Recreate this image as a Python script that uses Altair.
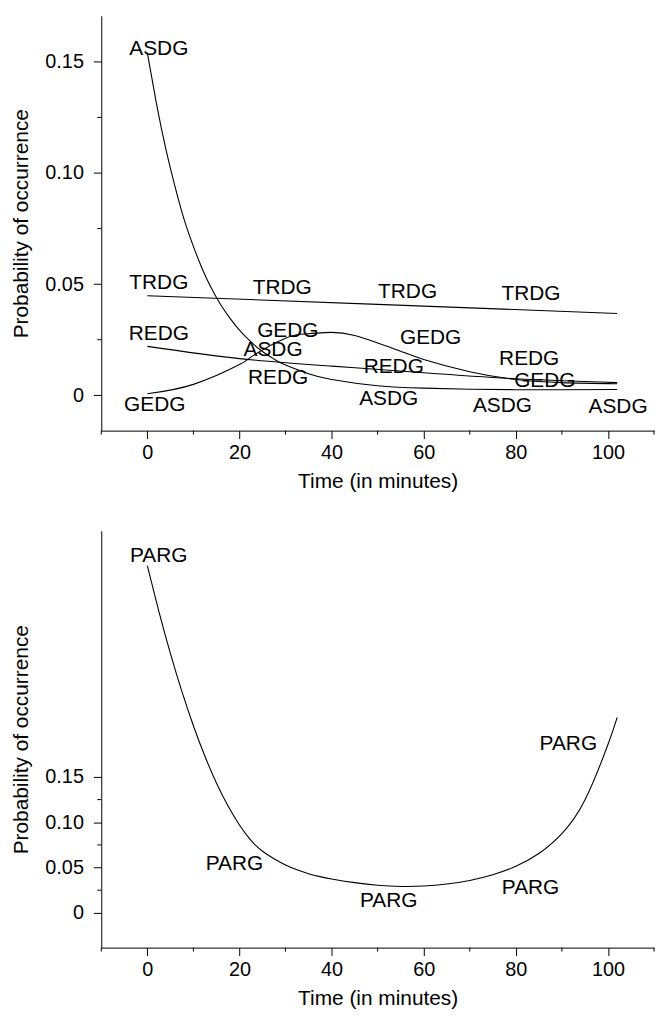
import altair as alt
import pandas as pd

# ---------------- top panel data ----------------
asdg_t = [0, 2, 4, 6, 8, 10, 12, 14, 16, 18, 20, 22.5, 25, 27.5, 30, 35, 40, 50, 60, 70,
          80, 90, 102]
asdg_p = [0.154, 0.131, 0.111, 0.094, 0.079, 0.067, 0.0565, 0.0478, 0.0405, 0.0345,
          0.0293, 0.024, 0.0197, 0.0163, 0.0136, 0.0097, 0.0071, 0.0043, 0.0032, 0.0027,
          0.0025, 0.0025, 0.0026]
trdg_t = [0, 50, 102]
trdg_p = [0.0448, 0.0409, 0.0368]
redg_t = [0, 20, 40, 60, 80, 102]
redg_p = [0.022, 0.0165, 0.0131, 0.0101, 0.0074, 0.0057]
gedg_t = [0, 10, 20, 22.8, 30, 35, 40, 45, 50, 55, 60, 70, 80, 90, 102]
gedg_p = [0.0007, 0.0049, 0.0138, 0.0176, 0.0257, 0.0277, 0.0283, 0.0269, 0.0235,
          0.0198, 0.0161, 0.0106, 0.0071, 0.0057, 0.0052]

top_lab_text = ["ASDG", "TRDG", "TRDG", "TRDG", "TRDG", "REDG", "GEDG", "ASDG", "REDG",
                "REDG", "GEDG", "REDG", "GEDG", "GEDG", "ASDG", "ASDG", "ASDG"]
top_lab_t = [2.5, 2.5, 29.3, 56.5, 83.3, 2.5, 30.5, 27.3, 28.4, 53.5, 61.5, 82.9, 86.3,
             1.6, 52.4, 77.1, 102.2]
top_lab_p = [0.1557, 0.0506, 0.0484, 0.0466, 0.0454, 0.0275, 0.029, 0.0202, 0.0079,
             0.0128, 0.0257, 0.0161, 0.0064, -0.0045, -0.0018, -0.0048, -0.0055]

# ---------------- bottom panel data ----------------
parg_t = [0, 2.5, 5, 7.5, 10, 12.5, 15, 17.5, 20, 22.5, 25, 27.5, 30, 32.5, 35, 37.5,
          40, 45, 50, 55, 60, 65, 70, 75, 80, 85, 90, 95, 100, 102]
parg_p = [0.383, 0.3326, 0.2864, 0.2443, 0.2065, 0.1728, 0.1434, 0.1181, 0.097, 0.080,
          0.068, 0.0597, 0.0528, 0.0475, 0.0433, 0.040, 0.0374, 0.0334, 0.0305, 0.0292,
          0.0296, 0.0318, 0.0358, 0.042, 0.0515, 0.0655, 0.0875, 0.1245, 0.1858, 0.2157]
bot_lab_text = ["PARG", "PARG", "PARG", "PARG", "PARG"]
bot_lab_t = [2.45, 18.9, 52.4, 83.2, 91.4]
bot_lab_p = [0.394, 0.0544, 0.0131, 0.027, 0.186]

# ---------------- ticks ----------------
x_major = [0, 20, 40, 60, 80, 100]
x_minor = [-10, 10, 30, 50, 70, 90, 110]
y_major = [0, 0.05, 0.10, 0.15]
y_minor = [0.025, 0.075, 0.125]

FONT = "Liberation Sans"
W = 557
TXT = 21


def series_df(pairs):
    rows = []
    for name, ts, ps in pairs:
        for t, p in zip(ts, ps):
            rows.append({"series": name, "t": t, "p": p})
    return pd.DataFrame(rows)


def panel(lines_df, labels_df, ydom, H):
    xs = alt.Scale(domain=[-10, 110], nice=False, zero=False)
    ys = alt.Scale(domain=ydom, nice=False, zero=False)
    xaxis = alt.Axis(values=x_major, title="Time (in minutes)", labelPadding=4,
                     titlePadding=8, labelFlush=False, format="d")
    yaxis = alt.Axis(values=y_major, title="Probability of occurrence", labelPadding=10,
                     titlePadding=13, labelFlush=False,
                     labelExpr="datum.value == 0 ? '0' : format(datum.value, '.2f')")
    X = alt.X("t:Q", scale=xs, axis=xaxis, title="Time (in minutes)")
    Y = alt.Y("p:Q", scale=ys, axis=yaxis, title="Probability of occurrence")
    lines = alt.Chart(lines_df).mark_line(
        color="black", strokeWidth=1.1, interpolate="natural"
    ).encode(x=X, y=Y, detail="series:N", order="t:Q")
    labels = alt.Chart(labels_df).mark_text(
        font=FONT, fontSize=TXT, color="black", align="center", baseline="middle"
    ).encode(x=X, y=Y, text="label:N")
    xminor = alt.Chart(pd.DataFrame({"t": x_minor})).mark_rule(
        color="black", strokeWidth=1
    ).encode(x=X, y=alt.value(H), y2=alt.value(H + 4))
    yminor = alt.Chart(pd.DataFrame({"p": y_minor})).mark_rule(
        color="black", strokeWidth=1
    ).encode(y=Y, x=alt.value(-4), x2=alt.value(0))
    return alt.layer(lines, labels, xminor, yminor).properties(width=W, height=H)


top_lines = series_df([("ASDG", asdg_t, asdg_p), ("TRDG", trdg_t, trdg_p),
                       ("REDG", redg_t, redg_p), ("GEDG", gedg_t, gedg_p)])
top_labels = pd.DataFrame({"label": top_lab_text, "t": top_lab_t, "p": top_lab_p})
bot_lines = series_df([("PARG", parg_t, parg_p)])
bot_labels = pd.DataFrame({"label": bot_lab_text, "t": bot_lab_t, "p": bot_lab_p})

top = panel(top_lines, top_labels, [-0.0159, 0.1707], 418)
bot = panel(bot_lines, bot_labels, [-0.0383, 0.4215], 420)

chart = alt.vconcat(top, bot, spacing=40).properties(
    padding={"left": 3, "top": 4, "right": 0, "bottom": 0}
).configure_view(stroke=None).configure_axis(
    domainColor="black", tickColor="black", labelColor="black", titleColor="black",
    labelFont=FONT, titleFont=FONT, labelFontSize=20, titleFontSize=TXT,
    titleFontWeight="normal", grid=False, tickSize=8, domainWidth=1, tickWidth=1,
)

chart.save("out.html", embed_options={"renderer": "svg", "actions": False})
